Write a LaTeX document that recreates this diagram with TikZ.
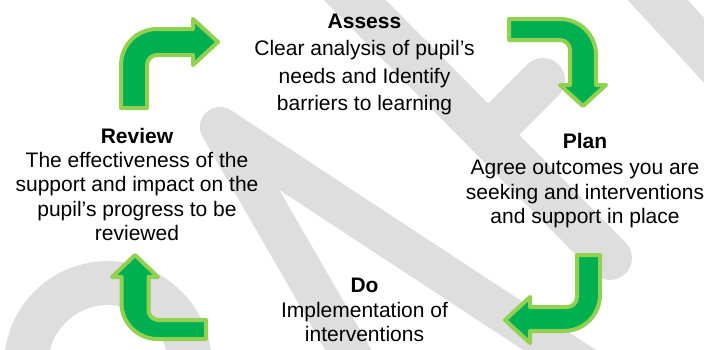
\documentclass[tikz,border=0pt]{standalone}
\usepackage{fontspec}
\setmainfont{Liberation Sans}
\definecolor{dgreen}{HTML}{00B050}
\definecolor{lgreen}{HTML}{92D050}
\definecolor{wm}{HTML}{DEDEDE}
\begin{document}
\begin{tikzpicture}[x=1pt,y=-1pt,
  arrowshape/.style={fill=dgreen,draw=lgreen,line width=4pt,line join=round},
  wmark/.style={draw=wm,line width=44pt,line cap=round,line join=round},
  wmarkthin/.style={wmark,line width=40pt},
  txt/.style={anchor=base,inner sep=0pt,font=\fontsize{21}{25}\selectfont},
  ttl/.style={anchor=base,inner sep=0pt,font=\fontsize{21}{25}\selectfont\bfseries}]
\useasboundingbox (0,0) rectangle (704,349);
\fill[white] (0,0) rectangle (704,349);
% watermark
\begin{scope}
\clip (0,0) rectangle (704,349);
\draw[wmark] (335,-20) -- (610,258);
\draw[wmark] (543,80) -- (490,133);
\draw[wmarkthin] (590,370) -- (220,127) -- (360,370);
\draw[wmark] (630,-30) -- (760,111);
\draw[wmark] (108,365) ++(170:82) arc[start angle=170,end angle=370,radius=82];
\end{scope}
% arrows
\draw[arrowshape] (121,108) -- (121,65) arc[start angle=180,end angle=270,radius=36]
  -- (193,29) -- (193,19) -- (218,42) -- (193,65) -- (193,55) -- (157,55)
  arc[start angle=270,end angle=180,radius=10] -- (147,108) -- cycle;
\draw[arrowshape] (509,19) -- (560,19) arc[start angle=270,end angle=360,radius=36]
  -- (596,85) -- (606,85) -- (583,106) -- (560,85) -- (570,85) -- (570,50)
  arc[start angle=0,end angle=-90,radius=10] -- (509,40) -- cycle;
\draw[arrowshape] (577,255) -- (600,255) -- (600,295) arc[start angle=0,end angle=90,radius=36]
  -- (530,331) -- (530,343) -- (505,320) -- (530,297) -- (530,307) -- (567,307)
  arc[start angle=90,end angle=0,radius=10] -- (577,255) -- cycle;
\draw[arrowshape] (206,339) -- (157.5,339) arc[start angle=90,end angle=180,radius=36]
  -- (121.5,277) -- (112,277) -- (135,255) -- (158,277) -- (148.5,277) -- (148.5,310)
  arc[start angle=180,end angle=90,radius=10] -- (206,320) -- cycle;
% texts
\node[ttl] (a0) at (364.5,28) {Assess};
\node[txt] (a1) at (364.5,55) {Clear analysis of pupil’s};
\node[txt] (a2) at (364.5,83) {needs and Identify};
\node[txt] (a3) at (364.5,110) {barriers to learning};
\node[ttl] (p0) at (585,148) {Plan};
\node[txt] (p1) at (585,174) {Agree outcomes you are};
\node[txt] (p2) at (585,199) {seeking and interventions};
\node[txt] (p3) at (585,223) {and support in place};
\node[ttl] (d0) at (364.5,292) {Do};
\node[txt] (d1) at (364.5,317) {Implementation of};
\node[txt] (d2) at (364.5,341) {interventions};
\node[ttl] (r0) at (137,143) {Review};
\node[txt] (r1) at (137,167) {The effectiveness of the};
\node[txt] (r2) at (137,191) {support and impact on the};
\node[txt] (r3) at (137,216) {pupil’s progress to be};
\node[txt] (r4) at (137,240) {reviewed};
\end{tikzpicture}
\end{document}
